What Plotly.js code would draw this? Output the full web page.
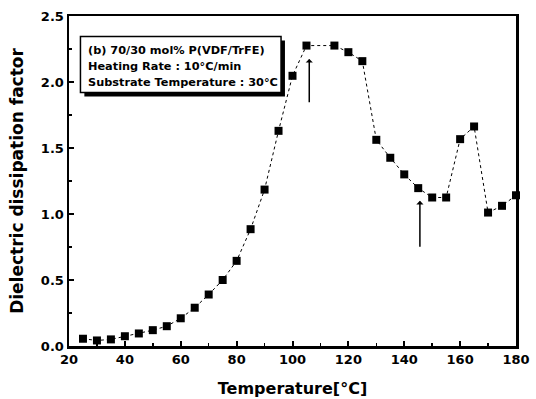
<!DOCTYPE html>
<html>
<head>
<meta charset="utf-8">
<script src="https://cdn.plot.ly/plotly-3.0.1.min.js"></script>
<style>html,body{margin:0;padding:0;background:#fff;}</style>
</head>
<body>
<div id="chart" style="width:536px;height:399px;"></div>
<script>
const temperature = [25,30,35,40,45,50,55,60,65,70,75,80,85,90,95,100,105,115,120,125,130,135,140,145,150,155,160,165,170,175,180];
const dissipation = [0.055,0.042,0.05,0.074,0.095,0.12,0.15,0.21,0.29,0.39,0.50,0.645,0.885,1.185,1.63,2.047,2.276,2.276,2.226,2.158,1.562,1.426,1.30,1.196,1.125,1.125,1.567,1.663,1.011,1.062,1.142];
const boxLines = ["(b) 70/30 mol% P(VDF/TrFE)", "Heating Rate : 10°C/min", "Substrate Temperature : 30°C"];
const arrowX = [106, 145.6];
const arrowTail = [1.835, 0.74];
const arrowHead = [2.175, 1.10];

const F = "DejaVu Sans, Liberation Sans, Arial, sans-serif";
const annotations = [];
boxLines.forEach((t, i) => {
  annotations.push({x: 26.0, y: 2.239 - i*0.1215, xref:'x', yref:'y', text: '<b>'+t+'</b>',
    showarrow:false, xanchor:'left', yanchor:'middle', font:{family:F, size:11.3, color:'#000'}});
});
arrowX.forEach((x, i) => {
  annotations.push({x: x, y: arrowHead[i], ax: x, ay: arrowTail[i], xref:'x', yref:'y', axref:'x', ayref:'y',
    showarrow:true, arrowhead:1, arrowsize:0.8, arrowwidth:1.5, arrowcolor:'#000', text:''});
});

const data = [{
  x: temperature, y: dissipation, type:'scatter', mode:'lines+markers',
  line:{color:'#000', width:1, dash:'dot'},
  marker:{symbol:'square', size:8, color:'#000'},
  cliponaxis:false
}];

const layout = {
  width:536, height:399,
  margin:{l:69, r:20, t:16, b:53},
  paper_bgcolor:'#fff', plot_bgcolor:'#fff',
  showlegend:false,
  font:{family:F, color:'#000'},
  xaxis:{
    range:[20,180], dtick:20, tick0:20, ticks:'inside', ticklen:5, tickwidth:2, tickcolor:'#000',
    minor:{dtick:10, ticks:'inside', ticklen:3, tickwidth:1.5, tickcolor:'#000'},
    showline:true, linewidth:2.5, linecolor:'#000', mirror:true, showgrid:false, zeroline:false,
    tickfont:{family:F, size:13, color:'#000', weight:'bold'},
    title:{text:'<b>Temperature[°C]</b>', font:{family:F, size:16, color:'#000'}, standoff:17}
  },
  yaxis:{
    range:[0,2.5], dtick:0.5, tickformat:'.1f', ticks:'inside', ticklen:5, tickwidth:2, tickcolor:'#000',
    minor:{dtick:0.25, ticks:'inside', ticklen:3, tickwidth:1.5, tickcolor:'#000'},
    showline:true, linewidth:2.5, linecolor:'#000', mirror:true, showgrid:false, zeroline:false,
    tickfont:{family:F, size:13, color:'#000', weight:'bold'},
    title:{text:'<b>Dielectric dissipation factor</b>', font:{family:F, size:17, color:'#000'}, standoff:13}
  },
  shapes:[
    {type:'rect', xref:'x', yref:'y', x0:25.5, x1:97.3, y0:1.89, y1:2.315, fillcolor:'#000', line:{width:0}, layer:'above'},
    {type:'rect', xref:'x', yref:'y', x0:24.1, x1:95.9, y0:1.92, y1:2.345, fillcolor:'#fff', line:{color:'#000', width:1.5}, layer:'above'}
  ],
  annotations: annotations
};
Plotly.newPlot('chart', data, layout, {displayModeBar:false, staticPlot:true});
</script>
</body>
</html>
